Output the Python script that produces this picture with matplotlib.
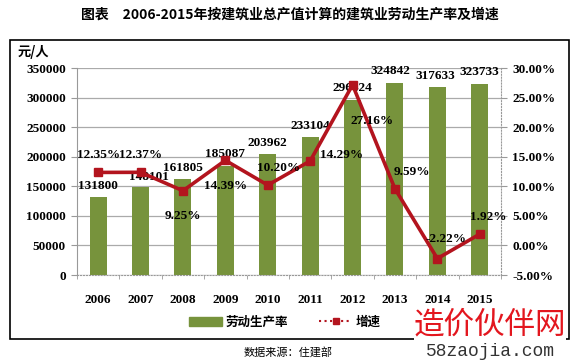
import matplotlib.pyplot as plt
from matplotlib.patches import Rectangle
from matplotlib.lines import Line2D
from matplotlib.patches import Patch

plt.rcParams['font.family'] = ['Noto Sans CJK SC', 'DejaVu Sans']

# ---------- data ----------
years = ["2006", "2007", "2008", "2009", "2010", "2011", "2012", "2013", "2014", "2015"]
productivity = [131800, 148101, 161805, 185087, 203962, 233104, 296424, 324842, 317633, 323733]
growth = [12.35, 12.37, 9.25, 14.39, 10.20, 14.29, 27.16, 9.59, -2.22, 1.92]
left_ticks = [0, 50000, 100000, 150000, 200000, 250000, 300000, 350000]
right_ticks = [-5, 0, 5, 10, 15, 20, 25, 30]

# label offsets (dx in category units, dy in points) for growth labels
g_off = [(0, 8), (0, 8), (0, -14), (0, -14), (0.25, 8), (0.75, 0), (0.45, -22), (0.4, 8), (0.2, 10), (0.2, 8)]
b_off = [(0, 4), (0.2, 3), (0, 4), (0, 4), (0, 4), (0, 4), (0, 4), (-0.1, 4), (-0.05, 4), (0, 4)]

BAR = "#77933C"
LINE = "#B3141E"
serif = "Liberation Serif"

fig = plt.figure(figsize=(5.77, 3.62), dpi=100)
ax = fig.add_axes([0.1334, 0.2403, 0.7348, 0.5717])
x = list(range(len(years)))

ax.bar(x, productivity, width=0.4, color=BAR, zorder=2)
ax.set_xlim(-0.5, len(years) - 0.5)
ax.set_ylim(0, 350000)
ax.set_yticks(left_ticks)
ax.set_yticklabels([str(v) for v in left_ticks], fontfamily=serif, fontweight="bold", fontsize=9.5)
ax.set_xticks(x)
ax.set_xticklabels(years, fontfamily=serif, fontweight="bold", fontsize=9.5)
ax.set_xticks([i - 0.5 for i in range(len(years) + 1)], minor=True)
ax.tick_params(axis="x", which="major", length=0, pad=14)
ax.tick_params(axis="x", which="minor", length=3, color="#999999")
ax.tick_params(axis="y", length=4, color="#999999", pad=4)
ax.grid(axis="y", color="#AAAAAA", linewidth=0.9, zorder=0)
ax.set_axisbelow(True)
for s in ["top", "right"]:
    ax.spines[s].set_visible(False)
ax.spines["left"].set_color("#999999")
ax.spines["bottom"].set_color("#999999")
ax.spines["bottom"].set_linestyle(":")

for i, v in enumerate(productivity):
    dx, dy = b_off[i]
    ax.annotate(str(v), (i + dx, v), xytext=(0, dy), textcoords="offset points",
                ha="center", va="bottom", fontfamily=serif, fontweight="bold", fontsize=9.5, zorder=5)

ax2 = ax.twinx()
ax2.plot(x, growth, color=LINE, linewidth=2.6, marker="s", markersize=6, zorder=4)
ax2.set_ylim(-5, 30)
ax2.set_yticks(right_ticks)
ax2.set_yticklabels(["%.2f%%" % v for v in right_ticks], fontfamily=serif, fontweight="bold", fontsize=9.5)
ax2.tick_params(axis="y", length=4, color="#999999", pad=4)
for s in ["top", "left", "bottom"]:
    ax2.spines[s].set_visible(False)
ax2.spines["right"].set_color("#999999")
ax2.spines["right"].set_linestyle(":")

for i, v in enumerate(growth):
    dx, dy = g_off[i]
    ax2.annotate("%.2f%%" % v, (i + dx, v), xytext=(0, dy), textcoords="offset points",
                 ha="center", va="bottom" if dy >= 0 else "top",
                 fontfamily=serif, fontweight="bold", fontsize=9.5, zorder=6)

# y unit
fig.text(18 / 577, 1 - 52 / 362, "元/人", fontsize=9.5, fontweight="bold", va="center", ha="left")

# legend
handles = [Patch(color=BAR, label="劳动生产率"),
           Line2D([0], [0], color=LINE, linewidth=1.5, linestyle=":", marker="s", markersize=4, label="增速")]
fig.legend(handles=handles, loc="center", bbox_to_anchor=(285 / 577, 1 - 322 / 362), ncol=2, frameon=False,
           prop={"weight": "bold", "size": 9}, handlelength=2.6, columnspacing=2.5, handletextpad=0.3)

# frame around chart
fig.patches.append(Rectangle((10 / 577, 23 / 362), 559 / 577, 299 / 362, transform=fig.transFigure,
                             fill=False, edgecolor="black", linewidth=1.2))

# title and source
fig.text(290 / 577, 1 - 15 / 362, "图表　2006-2015年按建筑业总产值计算的建筑业劳动生产率及增速",
         ha="center", va="center", fontsize=10, fontweight="bold")
fig.text(288 / 577, 1 - 352 / 362, "数据来源：住建部", ha="center", va="center", fontsize=8)

# watermark
fig.text(490 / 577, 1 - 325 / 362, "造价伙伴网", ha="center", va="center", fontsize=22, color="#E3161E",
         bbox=dict(facecolor="white", edgecolor="none", pad=0))
fig.text(490 / 577, 1 - 352 / 362, "58zaojia.com", ha="center", va="center", fontsize=13, color="#333333",
         family=["Liberation Mono"])

fig.savefig("out.png", dpi=100)
